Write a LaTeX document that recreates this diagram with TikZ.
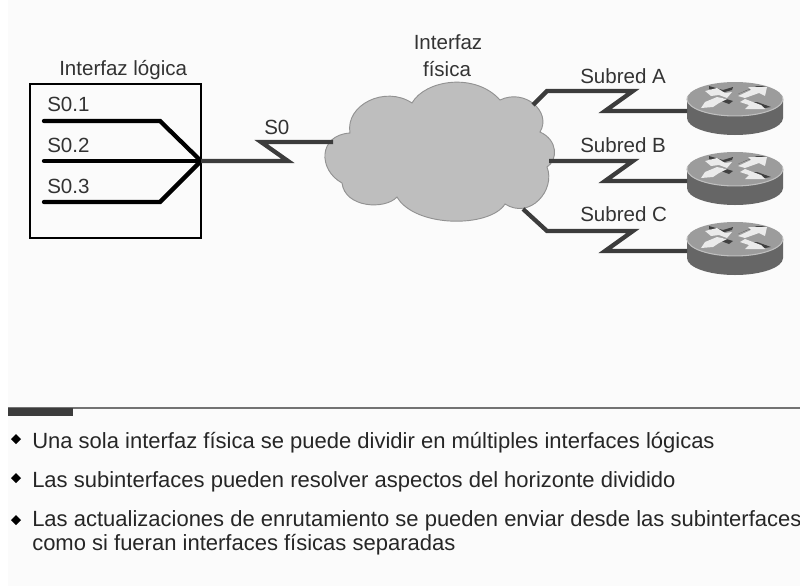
\documentclass[tikz,border=0pt]{standalone}
\usepackage{fontspec}
\setmainfont{Liberation Sans}
\definecolor{paper}{HTML}{FBFBFB}
\definecolor{wire}{HTML}{3C3C3C}
\definecolor{cloudgray}{HTML}{BEBEBE}
\definecolor{cloudline}{HTML}{929292}
\definecolor{rtrtop}{HTML}{9C9C9C}
\definecolor{rtrside}{HTML}{666666}
\tikzset{
  routerpic/.pic={
    \fill[rtrside] (-48,0) -- (-48,19) arc[start angle=180,end angle=0,x radius=48,y radius=17] -- (48,0) -- cycle;
    \fill[rtrtop] (0,0) ellipse[x radius=48,y radius=17];
    \draw[white!75!black,line width=.8pt] (-47.3,-3) arc[start angle=190,end angle=-10,x radius=48,y radius=17];
    % white arrows on the lid
    \fill[black!75] (-26,-13) -- (-12,-9) -- (-2,-12) -- (-3,-9) -- (-14,-6) -- (-26,-10) -- cycle;
    \fill[black!75] (-24,3) -- (-12,-1) -- (-2,2) -- (-6,5) -- (-14,2) -- (-22,5) -- cycle;
    \fill[white!92!black] (-30,-8) -- (-18,-11) -- (-10,-6) -- (-3,-7) -- (-8,-1) -- (-16,-4) -- (-24,-3) -- cycle;
    \fill[white!92!black] (-34,9) -- (-30,3) -- (-18,-2) -- (-8,0) -- (-16,4) -- (-22,8) -- cycle;
    \fill[black!75] (3,-5) -- (22,-13) -- (31,-13) -- (12,-9) -- cycle;
    \fill[black!75] (12,3) -- (22,3) -- (36,8) -- (30,9) -- cycle;
    \fill[white!92!black] (3,-3) -- (16,-9) -- (13,-12) -- (32,-12) -- (30,-3) -- (24,-6) -- (10,-1) -- cycle;
    \fill[white!92!black] (5,3) -- (10,0) -- (26,6) -- (30,10) -- (10,10) -- (14,6) -- cycle;
    \coordinate (-port) at (-48,12);
  },
}
\begin{document}
\begin{tikzpicture}[x=.75pt,y=-.75pt,
    thickwire/.style={line width=3.2pt,black,line join=miter},
    linkwire/.style={line width=3.2pt,wire,line join=miter},
    label/.style={font=\fontsize{15.4}{18}\selectfont,text=black!80,inner sep=0pt,anchor=base west},
    bullettext/.style={font=\fontsize{16.5}{20}\selectfont,text=black!85,inner sep=0pt,anchor=base west}]
  \useasboundingbox (0,0) rectangle (800,586);
  \fill[paper] (8,0) rectangle (800,586);

  % logical interface box
  \node (box) [draw,line width=1pt,minimum width=171*.75pt,minimum height=154*.75pt,inner sep=0pt] at (115.5,161) {};
  \node (title) [label] at (59,75) {Interfaz lógica};
  \node (s1) [label] at (47,111) {S0.1};
  \node (s2) [label] at (47,152) {S0.2};
  \node (s3) [label] at (47,193) {S0.3};
  \coordinate (hub) at (201,161);
  \coordinate (a1) at (44,121);
  \coordinate (a2) at (44,161);
  \coordinate (a3) at (44,202);

  % cloud
  \fill[cloudgray,draw=cloudline,line width=.7pt] (342,183)
    .. controls (318,170) and (318,135) .. (350,133)
    .. controls (345,105) and (385,85) .. (412,103)
    .. controls (425,80) and (475,72) .. (500,100)
    .. controls (525,88) and (552,112) .. (540,132)
    .. controls (558,140) and (558,160) .. (547,167)
    .. controls (556,190) and (530,220) .. (505,204)
    .. controls (490,228) and (415,228) .. (397,197)
    .. controls (385,210) and (345,208) .. (342,183) -- cycle;
  \node (phys) [label,anchor=base] at (448,49) {Interfaz};
  \node (fis) [label,anchor=base] at (447,76) {física};
  \coordinate (cs) at (333,142);
  \coordinate (ca) at (533,105);
  \coordinate (cb) at (549,161);
  \coordinate (cc) at (523,209);

  % routers
  \foreach \rtr/\ry in {ra/99,rb/169,rc/239}
    \pic (\rtr) at (735,\ry) {routerpic};

  % links
  \draw[thickwire,line cap=round] (a1) -- ++(116,0) -- (hub);
  \draw[thickwire,line cap=round] (a2) -- (hub);
  \draw[thickwire,line cap=round] (a3) -- ++(116,0) -- (hub);
  \draw[linkwire] (hub) -- (288,161) -- (261,142) -- (cs);
  \draw[linkwire] (ca) -- (547,91) -- (633,91) -- (605,111) -- (ra-port);
  \draw[linkwire] (cb) -- (633,161) -- (605,181) -- (rb-port);
  \draw[linkwire] (cc) -- (547,231) -- (633,231) -- (605,251) -- (rc-port);
  \node (s0) [label] at (264,134) {S0};
  \node (suba) [label] at (580,83) {Subred A};
  \node (subb) [label] at (580,152) {Subred B};
  \node (subc) [label] at (580,221) {Subred C};

  % bottom rule and bullets
  \draw[black!55,line width=1pt] (8,408) -- (800,408);
  \fill[wire] (8,408) rectangle (73,416);
  \foreach \by in {439,478,520}
    \fill[black] (11,\by) -- (16,\by-5) -- (21,\by) -- (16,\by+5) -- cycle;
  \node (b1) [bullettext] at (32,448) {Una sola interfaz física se puede dividir en múltiples interfaces lógicas};
  \node (b2) [bullettext] at (32,487) {Las subinterfaces pueden resolver aspectos del horizonte dividido};
  \node (b3) [bullettext] at (32,526) {Las actualizaciones de enrutamiento se pueden enviar desde las subinterfaces};
  \node (b4) [bullettext] at (32,550) {como si fueran interfaces físicas separadas};
\end{tikzpicture}
\end{document}
